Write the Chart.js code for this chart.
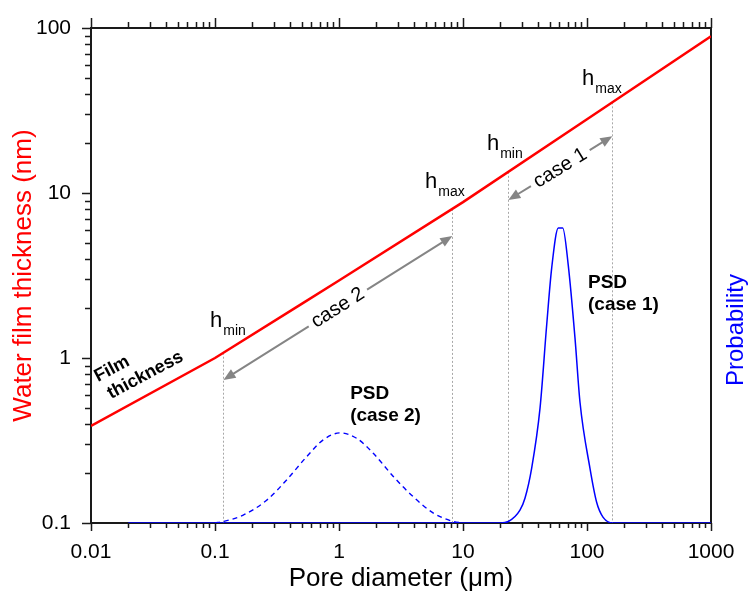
<!DOCTYPE html>
<html><head><meta charset="utf-8">
<script src="https://cdn.jsdelivr.net/npm/chart.js@4/dist/chart.umd.min.js"></script>
<style>html,body{margin:0;padding:0;background:#fff}#wrap{width:748px;height:594px}</style>
</head><body><div id="wrap"><canvas id="c" width="748" height="594"></canvas></div>
<script>
// ---- data ----
const filmDiameter  = [0.01, 0.1, 0.5, 1, 10, 100, 1000];
const filmThickness = [0.387, 1.0, 2.13, 2.95, 8.8, 28, 89];

const psd1Diameter = [0.02, 20, 23.2, 28.8, 31.6, 35.8, 41.8, 47.3, 51.9, 58.7, 63.7, 70.6, 80, 87.8, 105.6, 119.6, 134.5, 162, 200, 1000];
const psd1Prob     = [0, 0, 0.003, 0.026, 0.05, 0.111, 0.232, 0.4, 0.515, 0.596, 0.596, 0.521, 0.374, 0.244, 0.111, 0.042, 0.012, 0, 0, 0];

const psd2Diameter = [0.1, 0.117, 0.169, 0.261, 0.378, 0.549, 0.747, 1.02, 1.39, 1.89, 2.74, 3.97, 5.77, 8.35, 10];
const psd2Prob     = [0, 0.003, 0.016, 0.046, 0.087, 0.134, 0.168, 0.182, 0.171, 0.141, 0.094, 0.053, 0.02, 0.003, 0];

const xTickValues = [0.01, 0.1, 1, 10, 100, 1000];
const xTickLabels = ['0.01', '0.1', '1', '10', '100', '1000'];
const yTickValues = [0.1, 1, 10, 100];
const yTickLabels = ['0.1', '1', '10', '100'];

const guideDiameters = [0.117, 8.2, 23.2, 160];

// ---- annotation layout ----
const FONT = 'Liberation Sans, Arial, sans-serif';
Chart.defaults.font.family = FONT;

const hLabels = [
  {sub: 'min', d: 0.0911, v: 1.54},
  {sub: 'max', d: 4.94,  v: 10.7},
  {sub: 'min', d: 15.6,  v: 18.2},
  {sub: 'max', d: 91.2,  v: 45.1}
];
const arrows = [
  {from: [0.117, 0.736], to: [8.2, 5.49], text: 'case 2'},
  {from: [23.2, 9.07],   to: [160, 22.1], text: 'case 1'}
];
const psdLabels = [
  {lines: ['PSD', '(case 2)'], d: 1.23,  v: 0.564},
  {lines: ['PSD', '(case 1)'], d: 101.9, v: 2.66}
];
const filmLabels = [
  {text: 'Film', d: 0.0114, v: 0.715},
  {text: 'thickness', d: 0.0145, v: 0.564}
];

function filmAt(d) {
  for (let i = 0; i < filmDiameter.length - 1; i++) {
    const a = filmDiameter[i], b = filmDiameter[i + 1];
    if (d >= a && d <= b) {
      const t = (Math.log10(d) - Math.log10(a)) / (Math.log10(b) - Math.log10(a));
      return Math.pow(10, Math.log10(filmThickness[i]) + t * (Math.log10(filmThickness[i + 1]) - Math.log10(filmThickness[i])));
    }
  }
  return filmThickness[filmThickness.length - 1];
}

function head(ctx, x, y, ang) {
  const L = 12, W = 5;
  ctx.beginPath();
  ctx.moveTo(x, y);
  ctx.lineTo(x - L * Math.cos(ang) + W * Math.sin(ang), y - L * Math.sin(ang) - W * Math.cos(ang));
  ctx.lineTo(x - L * Math.cos(ang) - W * Math.sin(ang), y - L * Math.sin(ang) + W * Math.cos(ang));
  ctx.closePath();
  ctx.fill();
}

function noPad(s) { s.paddingTop = 0; s.paddingBottom = 0; s.paddingLeft = 0; s.paddingRight = 0; }

const annot = {
  id: 'annot',
  beforeDatasetsDraw(chart) {
    const {ctx, scales: {x, y}} = chart;
    const X = v => x.getPixelForValue(v), Y = v => y.getPixelForValue(v);
    ctx.save();
    // frame
    ctx.strokeStyle = '#1a1a1a';
    ctx.lineWidth = 2;
    ctx.strokeRect(x.left, y.top, x.right - x.left, y.bottom - y.top);
    // ticks
    ctx.lineWidth = 1.5;
    ctx.beginPath();
    for (let e = -2; e <= 2; e++) {
      for (let k = 1; k <= 9; k++) {
        const px = Math.round(X(k * Math.pow(10, e))) + 0.5;
        const maj = k === 1;
        ctx.moveTo(px, y.bottom); ctx.lineTo(px, y.bottom + (maj ? 8 : 5));
        ctx.moveTo(px, y.top); ctx.lineTo(px, y.top - (maj ? 10 : 6));
      }
    }
    let px = Math.round(X(1000)) + 0.5;
    ctx.moveTo(px, y.bottom); ctx.lineTo(px, y.bottom + 8);
    ctx.moveTo(px, y.top); ctx.lineTo(px, y.top - 10);
    for (let e = -1; e <= 1; e++) {
      for (let k = 1; k <= 9; k++) {
        const py = Math.round(Y(k * Math.pow(10, e))) + 0.5;
        const maj = k === 1;
        ctx.moveTo(x.left, py); ctx.lineTo(x.left - (maj ? 9 : 6), py);
      }
    }
    const py = Math.round(Y(100)) + 0.5;
    ctx.moveTo(x.left, py); ctx.lineTo(x.left - 9, py);
    ctx.stroke();
    // dotted guides
    ctx.strokeStyle = '#a8a8a8';
    ctx.lineWidth = 1;
    ctx.setLineDash([2, 2]);
    guideDiameters.forEach(d => {
      const gx = Math.round(X(d)) + 0.5;
      ctx.beginPath();
      ctx.moveTo(gx, Y(filmAt(d)));
      ctx.lineTo(gx, y.bottom);
      ctx.stroke();
    });
    ctx.restore();
  },
  afterDatasetsDraw(chart) {
    const {ctx, scales: {x, y}} = chart;
    const X = v => x.getPixelForValue(v), Y = v => y.getPixelForValue(v);
    ctx.save();
    // arrows
    ctx.strokeStyle = '#858585';
    ctx.fillStyle = '#858585';
    ctx.lineWidth = 2;
    ctx.font = '20px ' + FONT;
    arrows.forEach(a => {
      const x1 = X(a.from[0]), y1 = Y(a.from[1]), x2 = X(a.to[0]), y2 = Y(a.to[1]);
      const ang = Math.atan2(y2 - y1, x2 - x1);
      const cx = (x1 + x2) / 2, cy = (y1 + y2) / 2;
      const g = ctx.measureText(a.text).width / 2 + 5;
      const ux = Math.cos(ang), uy = Math.sin(ang);
      ctx.beginPath();
      ctx.moveTo(x1 + ux * 10, y1 + uy * 10);
      ctx.lineTo(cx - ux * g, cy - uy * g);
      ctx.moveTo(cx + ux * g, cy + uy * g);
      ctx.lineTo(x2 - ux * 10, y2 - uy * 10);
      ctx.stroke();
      head(ctx, x2, y2, ang);
      head(ctx, x1, y1, ang + Math.PI);
      ctx.save();
      ctx.translate(cx, cy);
      ctx.rotate(ang);
      ctx.fillStyle = '#000';
      ctx.textAlign = 'center';
      ctx.textBaseline = 'middle';
      ctx.fillText(a.text, 0, 0);
      ctx.restore();
    });
    // h labels
    ctx.fillStyle = '#000';
    ctx.textAlign = 'left';
    ctx.textBaseline = 'alphabetic';
    hLabels.forEach(h => {
      const hx = X(h.d), hy = Y(h.v);
      ctx.font = '22px ' + FONT;
      ctx.fillText('h', hx, hy);
      const w = ctx.measureText('h').width;
      ctx.font = '14px ' + FONT;
      ctx.fillText(h.sub, hx + w + 1, hy + 8);
    });
    // PSD labels
    ctx.font = 'bold 19px ' + FONT;
    psdLabels.forEach(p => {
      p.lines.forEach((t, i) => ctx.fillText(t, X(p.d), Y(p.v) + i * 22));
    });
    // film label
    ctx.font = 'bold 18px ' + FONT;
    filmLabels.forEach(f => {
      ctx.save();
      ctx.translate(X(f.d), Y(f.v));
      ctx.rotate(-28 * Math.PI / 180);
      ctx.fillText(f.text, 0, 0);
      ctx.restore();
    });
    // right axis title
    ctx.save();
    ctx.translate(736, 330);
    ctx.rotate(-Math.PI / 2);
    ctx.fillStyle = '#0000ff';
    ctx.font = '24px ' + FONT;
    ctx.textAlign = 'center';
    ctx.textBaseline = 'middle';
    ctx.fillText('Probability', 0, 0);
    ctx.restore();
    ctx.restore();
  }
};

new Chart(document.getElementById('c').getContext('2d'), {
  type: 'line',
  data: {
    datasets: [
      {
        label: 'PSD (case 2)',
        data: psd2Diameter.map((d, i) => ({x: d, y: psd2Prob[i]})),
        yAxisID: 'y2', borderColor: '#0000ff', borderWidth: 1.4, borderDash: [5, 4],
        pointRadius: 0, cubicInterpolationMode: 'monotone', fill: false
      },
      {
        label: 'PSD (case 1)',
        data: psd1Diameter.map((d, i) => ({x: d, y: psd1Prob[i]})),
        yAxisID: 'y2', borderColor: '#0000ff', borderWidth: 1.5,
        pointRadius: 0, cubicInterpolationMode: 'monotone', fill: false
      },
      {
        label: 'Film thickness',
        data: filmDiameter.map((d, i) => ({x: d, y: filmThickness[i]})),
        yAxisID: 'y', borderColor: '#ff0000', borderWidth: 2.5,
        pointRadius: 0, tension: 0, fill: false
      }
    ]
  },
  options: {
    responsive: false, animation: false, devicePixelRatio: 1,
    layout: {padding: {top: 28, right: 37, left: 0, bottom: 0}},
    plugins: {legend: {display: false}, tooltip: {enabled: false}},
    scales: {
      x: {
        type: 'logarithmic', position: 'bottom', min: 0.01, max: 1000,
        afterBuildTicks: s => { s.ticks = xTickValues.map(v => ({value: v})); },
        afterFit: s => { s.height = 71; noPad(s); },
        grid: {display: true, drawOnChartArea: false, drawTicks: false},
        border: {display: false},
        ticks: {
          color: '#000', font: {size: 21}, padding: 17, autoSkip: false, maxRotation: 0,
          callback: (v) => { const i = xTickValues.findIndex(t => Math.abs(t - v) / t < 1e-6); return i >= 0 ? xTickLabels[i] : ''; }
        },
        title: {display: true, text: 'Pore diameter (μm)', color: '#000', font: {size: 26}, padding: {top: 0, bottom: 0}}
      },
      y: {
        type: 'logarithmic', position: 'left', min: 0.1, max: 100,
        afterBuildTicks: s => { s.ticks = yTickValues.map(v => ({value: v})); },
        afterFit: s => { s.width = 91; noPad(s); },
        grid: {display: true, drawOnChartArea: false, drawTicks: false},
        border: {display: false},
        ticks: {
          color: '#000', font: {size: 21}, padding: 20, autoSkip: false,
          callback: (v) => { const i = yTickValues.findIndex(t => Math.abs(t - v) / t < 1e-6); return i >= 0 ? yTickLabels[i] : ''; }
        },
        title: {display: true, text: 'Water film thickness (nm)', color: '#ff0000', font: {size: 26}, padding: {top: 8, bottom: 0}}
      },
      y2: {type: 'linear', position: 'right', min: 0, max: 1, display: false}
    }
  },
  plugins: [annot]
});
</script>
</body></html>
